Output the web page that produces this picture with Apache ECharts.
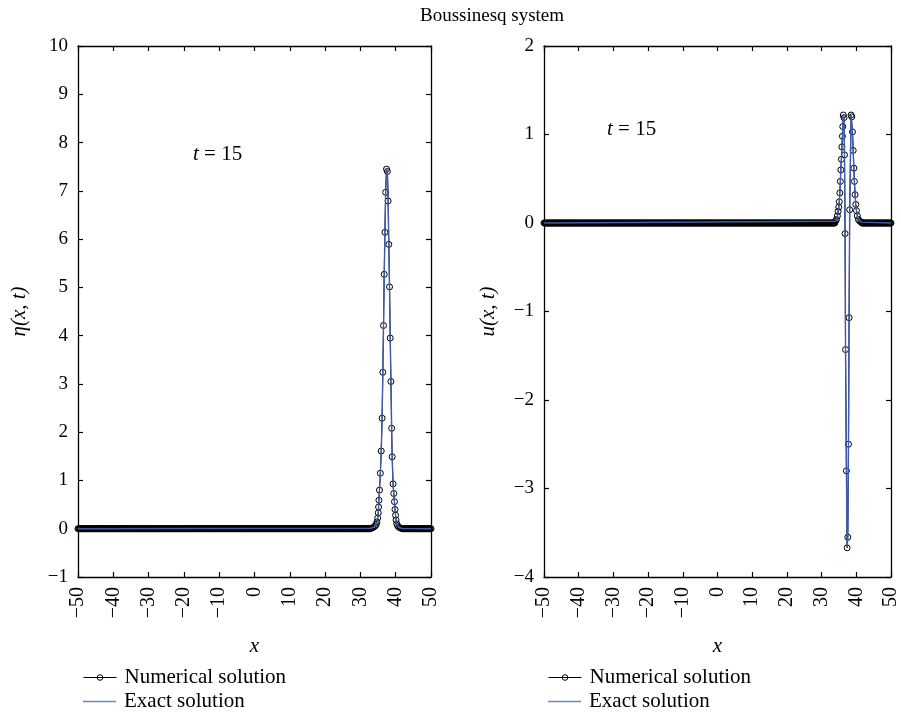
<!DOCTYPE html>
<html>
<head>
<meta charset="utf-8">
<title>Boussinesq system</title>
<script src="https://cdn.jsdelivr.net/npm/echarts@6/dist/echarts.min.js"></script>
<style>
  html, body { margin: 0; padding: 0; background: #fff; }
  #main { width: 901px; height: 714px; }
</style>
</head>
<body>
<div id="main"></div>
<script>
// eta(x,t) near the pulse
const etaX = [33.0, 33.5, 33.9, 34.2, 34.5, 34.7, 34.9, 35.05, 35.15, 35.25, 35.4, 35.65, 35.9, 36.15, 36.35, 36.55, 36.75, 36.95, 37.15, 37.4,
              37.65, 37.85, 38.05, 38.25, 38.45, 38.65, 38.85, 39.0, 39.25, 39.45, 39.65, 39.8, 39.95, 40.1, 40.3, 40.55, 40.9, 41.3, 41.8];
const etaY = [0.01, 0.02, 0.04, 0.06, 0.09, 0.14, 0.22, 0.33, 0.45, 0.59, 0.80, 1.15, 1.61, 2.29, 3.24, 4.21, 5.27, 6.14, 6.97, 7.45,
              7.40, 6.79, 5.89, 5.01, 3.95, 3.05, 2.08, 1.49, 0.93, 0.73, 0.56, 0.40, 0.28, 0.18, 0.10, 0.06, 0.03, 0.015, 0.005];

// u(x,t) near the pulse
const uX = [34.0, 34.3, 34.55, 34.75, 34.95, 35.1, 35.25, 35.4, 35.55, 35.7, 35.85, 36.0, 36.1, 36.25, 36.45, 36.6, 36.77, 36.9, 37.15, 37.35,
            37.55, 37.75, 37.92, 38.1, 38.5, 38.7, 38.9, 39.1, 39.3, 39.45, 39.65, 39.85, 40.05, 40.3, 40.6, 41.0, 41.5];
const uY = [0.02, 0.04, 0.08, 0.13, 0.18, 0.24, 0.34, 0.47, 0.60, 0.72, 0.86, 0.98, 1.09, 1.22, 1.19, 0.77, -0.12, -1.43, -2.80, -3.67,
            -3.55, -2.50, -1.07, 0.15, 1.22, 1.20, 1.03, 0.82, 0.62, 0.47, 0.32, 0.21, 0.14, 0.08, 0.04, 0.02, 0.01];

// the rest of the domain sits flat at zero; numerical grid spacing
const restLevel = 0;
const gridStep = 0.2;
const xMin = -50, xMax = 50;

const serif = '"Liberation Serif", "DejaVu Serif", serif';
const exactBlue = '#3f5cab';

function numerical(xs, ys) {
  const pts = [];
  const n = Math.round((xMax - xMin) / gridStep);
  for (let k = 0; k <= n; k++) {
    const x = +(xMin + k * gridStep).toFixed(3);
    if (x < xs[0]) pts.push([x, restLevel]);
  }
  xs.forEach((x, i) => pts.push([x, ys[i]]));
  for (let k = 0; k <= n; k++) {
    const x = +(xMin + k * gridStep).toFixed(3);
    if (x > xs[xs.length - 1]) pts.push([x, restLevel]);
  }
  return pts;
}

function exact(xs, ys) {
  return [[xMin, restLevel]].concat(xs.map((x, i) => [x, ys[i]]), [[xMax, restLevel]]);
}

const minusFmt = v => String(v).replace('-', '\u2212');

function xAxisPair(g) {
  const base = {
    type: 'value', gridIndex: g, min: xMin, max: xMax, interval: 10,
    axisLine: { onZero: false, lineStyle: { color: '#000', width: 1.3 } },
    axisTick: { inside: true, length: 5, lineStyle: { color: '#000', width: 1.2 } },
    splitLine: { show: false }
  };
  return [
    Object.assign({}, base, {
      position: 'bottom',
      axisLabel: { rotate: 90, margin: 10, color: '#000', fontFamily: serif, fontSize: 20, formatter: minusFmt },
      name: 'x', nameLocation: 'middle', nameGap: 59,
      nameTextStyle: { color: '#000', fontFamily: serif, fontSize: 21, fontStyle: 'italic' }
    }),
    Object.assign({}, base, { position: 'top', axisLabel: { show: false } })
  ];
}

function yAxisPair(g, lo, hi, name, gap) {
  const base = {
    type: 'value', gridIndex: g, min: lo, max: hi, interval: 1,
    axisLine: { onZero: false, lineStyle: { color: '#000', width: 1.3 } },
    axisTick: { inside: true, length: 5, lineStyle: { color: '#000', width: 1.2 } },
    splitLine: { show: false }
  };
  return [
    Object.assign({}, base, {
      position: 'left',
      axisLabel: { margin: 10, color: '#000', fontFamily: serif, fontSize: 19, formatter: minusFmt },
      name: name, nameLocation: 'middle', nameGap: gap, nameRotate: 90,
      nameTextStyle: { color: '#000', fontFamily: serif, fontSize: 21, fontStyle: 'italic' }
    }),
    Object.assign({}, base, { position: 'right', axisLabel: { show: false } })
  ];
}

function numSeries(xi, yi, data) {
  return {
    name: 'Numerical solution', type: 'line', xAxisIndex: xi, yAxisIndex: yi, z: 2,
    data: data, symbol: 'circle', symbolSize: 6, showAllSymbol: true,
    lineStyle: { color: '#000', width: 1 },
    itemStyle: { color: 'rgba(0,0,0,0)', borderColor: '#000', borderWidth: 1 },
    emphasis: { disabled: true }
  };
}

function exactSeries(xi, yi, data) {
  return {
    name: 'Exact solution', type: 'line', xAxisIndex: xi, yAxisIndex: yi, z: 5,
    data: data, showSymbol: false, symbol: 'none',
    lineStyle: { color: exactBlue, width: 1.4 },
    itemStyle: { color: exactBlue },
    emphasis: { disabled: true }
  };
}

function legendItem(left, top, name, isExact) {
  const lg = {
    left: left, top: top, itemWidth: 33, itemGap: 0, selectedMode: false,
    data: [name],
    textStyle: { color: '#000', fontFamily: serif, fontSize: 21, padding: [0, 0, 0, 3] }
  };
  if (isExact) {
    lg.icon = 'rect';
    lg.itemHeight = 1.5;
    lg.itemStyle = { color: '#6a84c6' };
  } else {
    lg.itemHeight = 7;
    lg.lineStyle = { color: '#000', width: 1 };
    lg.itemStyle = { color: 'rgba(0,0,0,0)', borderColor: '#000', borderWidth: 1 };
  }
  return lg;
}

const chart = echarts.init(document.getElementById('main'), null, { renderer: 'canvas' });

const xAxes = xAxisPair(0).concat(xAxisPair(1));
const yAxes = yAxisPair(0, -1, 10, '\u03b7(x, t)', 48).concat(yAxisPair(1, -4, 2, 'u(x, t)', 45));

const tLabel = {
  text: '{i|t} = 15', fill: '#000', font: '21px ' + serif,
  rich: { i: { fontStyle: 'italic', fontFamily: serif, fontSize: 21 } }
};

chart.setOption({
  animation: false,
  backgroundColor: '#fff',
  title: {
    text: 'Boussinesq system', left: 487, top: 2, textAlign: 'center',
    textStyle: { color: '#000', fontFamily: serif, fontSize: 19, fontWeight: 'normal' }
  },
  grid: [
    { left: 78, top: 46, width: 353, height: 531 },
    { left: 544, top: 46, width: 353, height: 531 }
  ],
  xAxis: xAxes,
  yAxis: yAxes,
  legend: [
    legendItem(78, 662, 'Numerical solution', false),
    legendItem(78, 686, 'Exact solution', true),
    legendItem(543, 662, 'Numerical solution', false),
    legendItem(543, 686, 'Exact solution', true)
  ],
  graphic: [
    { type: 'text', left: 193, top: 144, style: tLabel },
    { type: 'text', left: 607, top: 119, style: tLabel }
  ],
  series: [
    numSeries(0, 0, numerical(etaX, etaY)),
    exactSeries(0, 0, exact(etaX, etaY)),
    numSeries(2, 2, numerical(uX, uY)),
    exactSeries(2, 2, exact(uX, uY))
  ]
});
</script>
</body>
</html>
